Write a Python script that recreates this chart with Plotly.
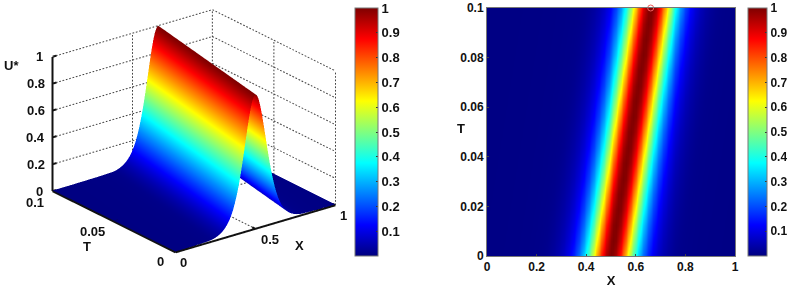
import plotly.graph_objects as go

# Wave height, by distance from the crest (steps of 0.01 in X)
half_profile = [1.0, .989, .957, .906, .842, .768, .689, .608, .53, .456, .389, .33, .276, .23, .19, .158, .129,
                .107, .0875, .072, .058, .048, .039, .032, .026, .021, .017, .014, .012, .011, .01, .01, .009,
                .009, .008, .008, .008, .008, .007, .007, .007, .007, .007, .007, .006, .006, .006, .006,
                .006, .006, .006, .006, .005, .005, .005, .005, .005, .005, .005, .005, .005, .005,
                .005, .005, .005, .005, .005]
profile = half_profile[:0:-1] + half_profile
X = [i / 100 for i in range(101)]
T = [i * 0.00625 for i in range(17)]
crest_index = 66  # index of the crest in profile
crest_steps_at_t0 = 50
U = [[profile[max(0, min(len(profile) - 1, j + crest_index - crest_steps_at_t0 - r))] for j in range(101)]
     for r in range(17)]

cbar_ticks = [.1, .2, .3, .4, .5, .6, .7, .8, .9, 1]
x_ticks_3d = [0, .5, 1]
t_ticks_3d = [0, .05, .1]
z_ticks_3d = [0, .2, .4, .6, .8, 1]
x_ticks_2d = [0, .2, .4, .6, .8, 1]
t_ticks_2d = [0, .02, .04, .06, .08, .1]
circle_x, circle_t = [.66], [.1]

W, H = 787, 288
FONT = "Liberation Sans"
BOLD = dict(family=FONT, size=13, color="#111111", weight="bold")
BOLD2 = dict(family=FONT, size=12, color="#111111", weight="bold")
JET = [[0, "#00007f"], [.125, "#0000ff"], [.375, "#00ffff"], [.625, "#ffff00"], [.875, "#ff0000"], [1, "#7f0000"]]


def cbar(x_px, thick, font):
    return dict(x=x_px / W, xanchor="left", xpad=0, y=(H - 132) / H, yanchor="middle", ypad=0,
                lenmode="pixels", len=248, thicknessmode="pixels", thickness=thick,
                tickvals=cbar_ticks, ticktext=[f"{v:g}" for v in cbar_ticks], ticks="inside", ticklen=2,
                tickcolor="#333333", tickfont=font, outlinecolor="#777777", outlinewidth=1, ticklabelposition="outside")


fig = go.Figure()
fig.add_trace(go.Surface(x=X, y=T, z=U, colorscale=JET, cmin=0, cmax=1, colorbar=cbar(355, 23, BOLD), scene="scene",
                         lighting=dict(ambient=1, diffuse=0, specular=0, fresnel=0), showscale=True,
                         hoverinfo="skip", contours=dict(x=dict(highlight=False), y=dict(highlight=False), z=dict(highlight=False))))

xmin, xmax, tmin, tmax, zmin, zmax = x_ticks_3d[0], x_ticks_3d[-1], t_ticks_3d[0], t_ticks_3d[-1], z_ticks_3d[0], z_ticks_3d[-1]

# dotted grid from the tick lists, drawn as rows of short dashes
gx, gy, gz = [], [], []


def dotted(p0, p1, n):
    for i in range(n):
        for f in (i / n, (i + .5) / n):
            gx.append(p0[0] + (p1[0] - p0[0]) * f)
            gy.append(p0[1] + (p1[1] - p0[1]) * f)
            gz.append(p0[2] + (p1[2] - p0[2]) * f)
        gx.append(None); gy.append(None); gz.append(None)


for z in z_ticks_3d:
    if z != zmin:
        dotted((xmin, tmax, z), (xmax, tmax, z), 48)
        dotted((xmax, tmax, z), (xmax, tmin, z), 40)
for x in x_ticks_3d:
    if x != xmin:
        dotted((x, tmax, zmin), (x, tmax, zmax), 39)
        dotted((x, tmin, zmin), (x, tmax, zmin), 40)
for t in t_ticks_3d:
    dotted((xmax, t, zmin), (xmax, t, zmax), 39)
    if t != tmin:
        dotted((xmin, t, zmin), (xmax, t, zmin), 48)
fig.add_trace(go.Scatter3d(x=gx, y=gy, z=gz, mode="lines", line=dict(color="#444444", width=2),
                           hoverinfo="skip", showlegend=False, scene="scene"))

# heavy axes with their short ticks
ax, ay, az = [xmin, xmax, None, xmin, xmin, None, xmin, xmin, None], [tmin, tmin, None, tmin, tmax, None, tmax, tmax, None], [zmin, zmin, None, zmin, zmin, None, zmin, zmax, None]
for z in z_ticks_3d:
    ax += [xmin, xmin + .025, None]; ay += [tmax, tmax, None]; az += [z, z, None]
for x in x_ticks_3d:
    ax += [x, x, None]; ay += [tmin, tmin + .0025, None]; az += [zmin, zmin, None]
for t in t_ticks_3d:
    ax += [xmin, xmin + .025, None]; ay += [t, t, None]; az += [zmin, zmin, None]
fig.add_trace(go.Scatter3d(x=ax, y=ay, z=az, mode="lines", line=dict(color="#111111", width=4),
                           hoverinfo="skip", showlegend=False, scene="scene"))

fig.add_trace(go.Heatmap(x=X, y=T, z=U, colorscale=JET, zmin=0, zmax=1, zsmooth="best", xaxis="x", yaxis="y",
                         colorbar=cbar(748, 19, BOLD2), hoverinfo="skip"))
fig.add_trace(go.Scatter(x=circle_x, y=circle_t, mode="markers", cliponaxis=False, xaxis="x", yaxis="y",
                         marker=dict(symbol="circle-open", size=6, color="#f06060", line=dict(width=1, color="#f06060")),
                         hoverinfo="skip", showlegend=False))


def ann(x, y, z, text, dx, dy):
    return dict(x=x, y=y, z=z, text=text, showarrow=False, xshift=dx, yshift=dy, font=BOLD,
                xanchor="center", yanchor="middle")


anns = [ann(xmin, tmax, z, f"{z:g}", -13 if z in (0, 1) else -17, 0) for z in z_ticks_3d]
anns += [ann(xmin, tmax, zmax, "U*", -41, -9)]
anns += [ann(xmin, tmin, zmin, "0", 8, -10), ann(.5, tmin, zmin, "0.5", 14, -11), ann(xmax, tmin, zmin, "1", 8, -10)]
anns += [ann(xmin, tmin, zmin, "0", -15, -9), ann(xmin, .05, zmin, "0.05", -22, -10), ann(xmin, tmax, zmin, "0.1", -18, -11)]
anns += [ann(xmin, .05, zmin, "T", -27, -25), ann(.5, tmin, zmin, "X", 44, -17)]

fig.update_layout(
    width=W, height=H, margin=dict(l=0, r=0, t=0, b=0, autoexpand=False), paper_bgcolor="white", plot_bgcolor="white",
    showlegend=False,
    scene=dict(
        domain=dict(x=[0, 388 / W], y=[26 / H, 1]),
        aspectmode="manual", aspectratio=dict(x=1.54, y=1.54, z=1.11),
        camera=dict(projection=dict(type="orthographic"), eye=dict(x=-.625, y=-.8125, z=.425),
                    center=dict(x=0, y=0, z=0), up=dict(x=0, y=0, z=1)),
        xaxis=dict(visible=False, range=[xmin, xmax]),
        yaxis=dict(visible=False, range=[tmin, tmax]),
        zaxis=dict(visible=False, range=[zmin, zmax]),
        annotations=anns,
    ),
    xaxis=dict(domain=[487 / W, 735 / W], range=[0, 1], tickvals=x_ticks_2d, ticktext=[f"{v:g}" for v in x_ticks_2d],
               ticks="inside", ticklen=2, tickfont=BOLD2, showgrid=False, zeroline=False, showline=True, mirror=True,
               linecolor="#777777", linewidth=1, title=dict(text="X", font=BOLD, standoff=2), anchor="y"),
    yaxis=dict(domain=[(H - 256) / H, (H - 8) / H], range=[0, .1], tickvals=t_ticks_2d, ticktext=[f"{v:g}" for v in t_ticks_2d],
               ticks="inside", ticklen=2, tickfont=BOLD2, showgrid=False, zeroline=False, showline=True, mirror=True,
               linecolor="#777777", linewidth=1, anchor="x"),
    annotations=[dict(text="T", font=BOLD, showarrow=False, xref="x domain", yref="y domain", x=-.105, y=.516,
                      xanchor="center", yanchor="middle")],
)
fig.write_html("out.html", config=dict(displayModeBar=False),
               post_script="document.body.style.margin='0';")
